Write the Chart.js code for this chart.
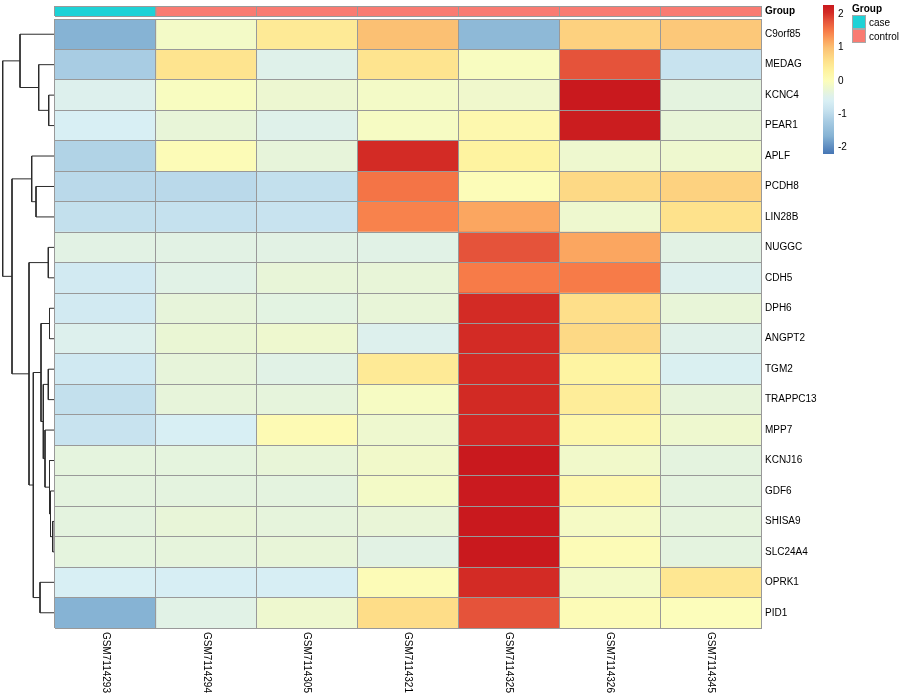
<!DOCTYPE html>
<html>
<head>
<meta charset="utf-8">
<script src="https://cdn.jsdelivr.net/npm/chart.js@4.4.1/dist/chart.umd.min.js"></script>
<style>
  body { margin: 0; background: #fff; font-family: "Liberation Sans", Arial, sans-serif; }
  #wrap { position: relative; width: 900px; height: 700px; overflow: hidden; }
  canvas { position: absolute; }
  .lg { position: absolute; font-size: 10px; color: #000; line-height: 14px; }
  .box { position: absolute; width: 14px; height: 14px; box-sizing: border-box; border: 1px solid #a8a8a8; }
</style>
</head>
<body>
<div id="wrap">
  <canvas id="dendro" width="56" height="611" style="left:0;top:18px"></canvas>
  <canvas id="anno" width="846" height="12" style="left:54px;top:5px"></canvas>
  <canvas id="heat" width="846" height="682" style="left:54px;top:18px"></canvas>
  <canvas id="scaleBar" width="40" height="151" style="left:822px;top:4px"></canvas>
  <div class="lg" style="left:852px;top:2px;font-weight:bold">Group</div>
  <div class="box" style="left:852px;top:15px;background:#1ed2d6"></div>
  <div class="box" style="left:852px;top:29px;background:#f97b72"></div>
  <div class="lg" style="left:869px;top:16px">case</div>
  <div class="lg" style="left:869px;top:30px">control</div>
</div>
<script>
// ================== DATA ================ //
const genes = [
  "C9orf85", "MEDAG", "KCNC4", "PEAR1", "APLF", "PCDH8", "LIN28B", "NUGGC",
  "CDH5", "DPH6", "ANGPT2", "TGM2", "TRAPPC13", "MPP7", "KCNJ16", "GDF6",
  "SHISA9", "SLC24A4", "OPRK1", "PID1",
];
const samples = [
  "GSM7114293", "GSM7114294", "GSM7114305", "GSM7114321",
  "GSM7114325", "GSM7114326", "GSM7114345",
];
const sampleGroup = ["case", "control", "control", "control", "control", "control", "control"];

// row-scaled expression (z), one array per sample, in gene order
const zGSM7114293 = [-1.65, -1.2, -0.5, -0.6, -1.1, -1.0, -0.9, -0.4, -0.7, -0.7, -0.5, -0.72, -0.9, -0.85, -0.35, -0.36, -0.36, -0.35, -0.6, -1.65];
const zGSM7114294 = [-0.12, 0.55, -0.05, -0.3, 0.05, -1.0, -0.88, -0.4, -0.42, -0.32, -0.26, -0.32, -0.32, -0.6, -0.35, -0.36, -0.3, -0.33, -0.62, -0.42];
const zGSM7114305 = [0.45, -0.45, -0.22, -0.45, -0.32, -0.9, -0.85, -0.4, -0.3, -0.38, -0.2, -0.42, -0.33, 0.08, -0.3, -0.36, -0.33, -0.3, -0.62, -0.2];
const zGSM7114321 = [1.0, 0.55, -0.12, -0.08, 2.05, 1.55, 1.45, -0.42, -0.3, -0.3, -0.5, 0.45, -0.08, -0.2, -0.15, -0.12, -0.29, -0.4, 0.05, 0.65];
const zGSM7114325 = [-1.55, -0.05, -0.17, 0.15, 0.3, 0.03, 1.2, 1.8, 1.5, 2.05, 2.05, 2.05, 2.07, 2.1, 2.3, 2.28, 2.3, 2.3, 2.05, 1.8];
const zGSM7114326 = [0.8, 1.8, 2.3, 2.25, -0.2, 0.7, -0.2, 1.2, 1.5, 0.62, 0.7, 0.28, 0.4, 0.18, -0.15, 0.15, -0.1, 0.05, -0.12, 0.05];
const zGSM7114345 = [0.9, -0.85, -0.36, -0.3, -0.2, 0.78, 0.58, -0.4, -0.5, -0.3, -0.44, -0.55, -0.32, -0.2, -0.36, -0.36, -0.34, -0.36, 0.5, 0.0];
const zColumns = [zGSM7114293, zGSM7114294, zGSM7114305, zGSM7114321, zGSM7114325, zGSM7114326, zGSM7114345];

// row dendrogram (hclust style: negative = leaf in row order, positive = earlier merge)
const mergePairs = [
  [-3, -4], [-2, 1], [-1, 2], [-6, -7], [-5, 4], [-8, -9], [-10, -11], [-12, -13],
  [-17, -18], [-16, 9], [-15, 10], [-14, 11], [8, 12], [7, 13], [-19, -20],
  [14, 15], [6, 16], [5, 17], [3, 18],
];
const mergeHeights = [5.3, 15.3, 34, 18, 22.3, 5.7, 4.5, 5.7, 1.3, 3.5, 4.5, 9, 10.7, 13, 14, 20.7, 25, 42, 51.3];

const legendTicks = [-2, -1, 0, 1, 2];
const zMin = -2.19;
const zMax = 2.28;

// ================== COLOURS ================ //
const groupColors = { case: "#1ed2d6", control: "#f97b72" };
const palette = [
  [-2.2, "#4575b4"], [-1.65, "#86b3d4"], [-1.2, "#a8cce3"], [-0.85, "#c8e3ef"],
  [-0.6, "#d8eff4"], [-0.45, "#dff1ea"], [-0.3, "#e8f5d8"], [-0.15, "#f1f9ca"],
  [0, "#fcfdbb"], [0.3, "#fef3a0"], [0.6, "#fee18b"], [1.0, "#fbc073"],
  [1.2, "#fba660"], [1.5, "#f77b48"], [1.8, "#e5533a"], [2.05, "#d32b25"], [2.3, "#c9191e"],
];
const FONT = "'Liberation Sans', Arial, Helvetica, sans-serif";
const GRID = "#999999";

function hexRgb(h) {
  return [1, 3, 5].map((i) => parseInt(h.slice(i, i + 2), 16));
}

function zColor(v) {
  if (v <= palette[0][0]) return palette[0][1];
  for (let i = 1; i < palette.length; i++) {
    const [v1, c1] = palette[i];
    if (v <= v1) {
      const [v0, c0] = palette[i - 1];
      const t = (v - v0) / (v1 - v0);
      const a = hexRgb(c0), b = hexRgb(c1);
      const m = a.map((x, k) => Math.round(x + (b[k] - x) * t));
      return `rgb(${m[0]},${m[1]},${m[2]})`;
    }
  }
  return palette[palette.length - 1][1];
}

Chart.defaults.font.family = FONT;
Chart.defaults.color = "#000";

const baseOpts = {
  responsive: false,
  maintainAspectRatio: false,
  animation: false,
  events: [],
  devicePixelRatio: 1,
  plugins: { legend: { display: false }, tooltip: { enabled: false } },
};

// ================== HEATMAP ================ //
const sampleLabels = {
  id: "sampleLabels",
  afterDraw(chart) {
    const sc = chart.scales.xs;
    const ctx = chart.ctx;
    ctx.save();
    ctx.fillStyle = "#000";
    ctx.font = `10px ${FONT}`;
    ctx.textAlign = "left";
    ctx.textBaseline = "middle";
    samples.forEach((s, i) => {
      ctx.save();
      ctx.translate(sc.getPixelForTick(i), chart.chartArea.bottom + 4);
      ctx.rotate(Math.PI / 2);
      ctx.fillText(s, 0, 0);
      ctx.restore();
    });
    ctx.restore();
  },
};

function noPad(s) {
  s.paddingTop = 0;
  s.paddingBottom = 0;
  s.paddingLeft = 0;
  s.paddingRight = 0;
}

function cellScales(rowFont, rightWidth) {
  return {
    x: { type: "linear", stacked: true, min: 0, max: samples.length, display: false },
    y: {
      type: "category",
      stacked: true,
      position: "right",
      offset: true,
      grid: { offset: true, color: GRID, drawTicks: false, z: 1 },
      border: { color: GRID, z: 1 },
      ticks: { font: rowFont, color: "#000", padding: 4 },
      afterFit: (s) => { s.width = rightWidth; noPad(s); },
    },
    xs: {
      type: "category",
      labels: samples,
      position: "bottom",
      offset: true,
      grid: { offset: true, color: GRID, drawTicks: false, z: 1 },
      border: { color: GRID, z: 1 },
      ticks: { display: false },
      afterFit: (s) => { s.height = 0; noPad(s); },
    },
  };
}

new Chart(document.getElementById("heat"), {
  type: "bar",
  data: {
    labels: genes,
    datasets: samples.map((s, j) => ({
      label: s,
      data: genes.map(() => 1),
      backgroundColor: zColumns[j].map(zColor),
      borderWidth: 0,
      categoryPercentage: 1,
      barPercentage: 1,
    })),
  },
  options: {
    ...baseOpts,
    indexAxis: "y",
    layout: { padding: { top: 1, left: 1, bottom: 72, right: 0 } },
    scales: cellScales({ size: 10 }, 139),
  },
  plugins: [sampleLabels],
});

// ================== GROUP ANNOTATION ================ //
new Chart(document.getElementById("anno"), {
  type: "bar",
  data: {
    labels: ["Group"],
    datasets: samples.map((s, j) => ({
      label: s,
      data: [1],
      backgroundColor: groupColors[sampleGroup[j]],
      borderWidth: 0,
      categoryPercentage: 1,
      barPercentage: 1,
    })),
  },
  options: {
    ...baseOpts,
    indexAxis: "y",
    layout: { padding: { top: 1, left: 1, bottom: 1, right: 0 } },
    scales: cellScales({ size: 10, weight: "bold" }, 139),
  },
});

// ================== DENDROGRAM ================ //
const LEAF_H = -1;
const nodeY = [];
const nodeH = [];
function childPos(id) {
  if (id < 0) return { y: -id - 0.5, h: LEAF_H };
  return { y: nodeY[id - 1], h: nodeH[id - 1] };
}
const dendroSets = mergePairs.map(([a, b], k) => {
  const A = childPos(a);
  const B = childPos(b);
  const h = mergeHeights[k];
  nodeY[k] = (A.y + B.y) / 2;
  nodeH[k] = h;
  return {
    data: [{ x: A.h, y: A.y }, { x: h, y: A.y }, { x: h, y: B.y }, { x: B.h, y: B.y }],
    showLine: true,
    borderColor: "#2b2b2b",
    borderWidth: 1,
    pointRadius: 0,
    tension: 0,
    clip: false,
  };
});

new Chart(document.getElementById("dendro"), {
  type: "scatter",
  data: { datasets: dendroSets },
  options: {
    ...baseOpts,
    layout: { padding: { top: 1, bottom: 1, left: 0, right: 0 } },
    scales: {
      x: { type: "linear", reverse: true, min: -2, max: 54, display: false },
      y: { type: "linear", reverse: true, min: 0, max: genes.length, display: false },
    },
  },
});

// ================== COLOUR KEY ================ //
function keyGradient(c) {
  const chart = c.chart;
  if (!chart.chartArea) return palette[8][1];
  const y = chart.scales.y;
  const g = chart.ctx.createLinearGradient(0, y.getPixelForValue(zMin), 0, y.getPixelForValue(zMax));
  palette.forEach(([v, col]) => {
    const t = Math.min(1, Math.max(0, (v - zMin) / (zMax - zMin)));
    g.addColorStop(t, col);
  });
  return g;
}

new Chart(document.getElementById("scaleBar"), {
  type: "bar",
  data: {
    labels: [""],
    datasets: [{
      data: [[zMin, zMax]],
      backgroundColor: keyGradient,
      borderWidth: 0,
      categoryPercentage: 1,
      barPercentage: 1,
    }],
  },
  options: {
    ...baseOpts,
    layout: { padding: { top: 1, bottom: 1, left: 1, right: 0 } },
    scales: {
      x: { type: "category", display: false },
      y: {
        type: "linear",
        position: "right",
        min: zMin,
        max: zMax,
        grid: { display: false, drawTicks: false },
        border: { display: false },
        ticks: { font: { size: 10 }, color: "#000", padding: 4 },
        afterBuildTicks: (s) => { s.ticks = legendTicks.map((v) => ({ value: v })); },
        afterFit: (s) => { s.width = 28; noPad(s); },
      },
    },
  },
});
</script>
</body>
</html>
